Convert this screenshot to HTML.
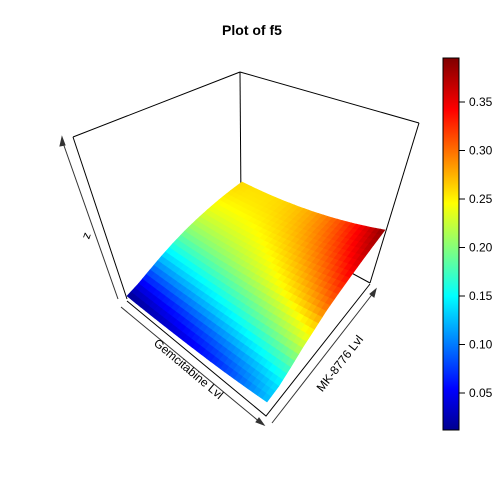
<!DOCTYPE html>
<html><head><meta charset="utf-8"><style>
html,body{margin:0;padding:0;background:#fff;}
svg{display:block;font-family:"Liberation Sans",sans-serif;}
</style></head><body>
<svg id="chart" width="504" height="504" viewBox="0 0 504 504">
<rect width="504" height="504" fill="#fff"/>
<text x="252" y="35" text-anchor="middle" font-size="14" font-weight="bold">Plot of f5</text>
<g id="boxBack" stroke="#000" stroke-width="1" fill="none">
<line x1="240" y1="72" x2="73" y2="137"/>
<line x1="240" y1="72" x2="419" y2="123"/>
<line x1="240" y1="72" x2="241" y2="205"/>
<line x1="73" y1="137" x2="127" y2="299"/>
<line x1="419" y1="123" x2="370" y2="283"/>
<line x1="241" y1="213" x2="370" y2="283"/>
</g>
<g id="surface"></g>
<g stroke="#000" stroke-width="1" fill="none">
<polyline points="127,301 266,416 370,284"/>
</g>
<g stroke="#333" stroke-width="1" fill="#333">
<line x1="118" y1="299" x2="62" y2="140"/>
<polygon points="62,137 60,146 65,145"/>
<line x1="121" y1="307" x2="261" y2="423"/>
<polygon points="264,425 256,422 259,418"/>
<line x1="272" y1="423" x2="374" y2="292"/>
<polygon points="376,289 370,294 374,297"/>
</g>
<text transform="translate(84,235) rotate(110)" text-anchor="middle" font-size="12">z</text>
<text transform="translate(186,372) rotate(40)" text-anchor="middle" font-size="12">Gemcitabine Lvl</text>
<text transform="translate(343,366) rotate(-52)" text-anchor="middle" font-size="12">MK-8776 Lvl</text>
<defs><linearGradient id="jet" x1="0" y1="1" x2="0" y2="0">
<stop offset="0" stop-color="#00008f"/><stop offset="0.11" stop-color="#0000ff"/>
<stop offset="0.36" stop-color="#00ffff"/><stop offset="0.61" stop-color="#ffff00"/>
<stop offset="0.86" stop-color="#ff0000"/><stop offset="1" stop-color="#800000"/>
</linearGradient></defs>
<rect x="443" y="58" width="16" height="372" fill="url(#jet)" stroke="#000" stroke-width="1"/>
<g id="cbTicks"></g>
</svg>
<script>
const gemLevels=[0,0.1,0.2,0.3,0.4,0.5,0.6,0.7,0.8,0.9,1];
const mkLevels=[0,0.1,0.2,0.3,0.4,0.5,0.6,0.7,0.8,0.9,1];
const zValues=[
[0.012,0.0444,0.0880,0.1298,0.1658,0.1960,0.2184,0.2360,0.2488,0.2568,0.2600],
[0.018,0.0505,0.0947,0.1343,0.1683,0.1978,0.2187,0.2351,0.2469,0.2541,0.2568],
[0.025,0.0580,0.1011,0.1399,0.1732,0.2014,0.2212,0.2367,0.2479,0.2546,0.2572],
[0.033,0.0669,0.1092,0.1464,0.1787,0.2068,0.2259,0.2408,0.2516,0.2585,0.2612],
[0.042,0.0761,0.1170,0.1542,0.1865,0.2140,0.2327,0.2474,0.2584,0.2655,0.2688],
[0.052,0.0856,0.1256,0.1630,0.1948,0.2230,0.2416,0.2566,0.2680,0.2758,0.2800],
[0.063,0.0955,0.1349,0.1729,0.2045,0.2338,0.2527,0.2683,0.2805,0.2893,0.2948],
[0.076,0.1058,0.1449,0.1839,0.2156,0.2464,0.2660,0.2825,0.2959,0.3060,0.3132],
[0.091,0.1165,0.1556,0.1958,0.2283,0.2608,0.2815,0.2992,0.3140,0.3261,0.3352],
[0.107,0.1285,0.1670,0.2090,0.2423,0.2770,0.2991,0.3184,0.3352,0.3493,0.3608],
[0.125,0.1408,0.1792,0.2232,0.2578,0.2950,0.3188,0.3402,0.3592,0.3758,0.3900]];
const tickValues=[0.05,0.10,0.15,0.20,0.25,0.30,0.35];
const tickLabels=["0.05","0.10","0.15","0.20","0.25","0.30","0.35"];

const NS="http://www.w3.org/2000/svg";
const zMin=0.012,zMax=0.395;
const cbY=v=>393-(v-0.05)*970;
function jet(t){
  t=Math.max(0,Math.min(1,t));
  const stops=[[0,0,0,143],[0.11,0,0,255],[0.36,0,255,255],[0.61,255,255,0],[0.86,255,0,0],[1,128,0,0]];
  for(let i=1;i<stops.length;i++){if(t<=stops[i][0]){const a=stops[i-1],b=stops[i],f=(t-a[0])/(b[0]-a[0]);
    return `rgb(${Math.round(a[1]+(b[1]-a[1])*f)},${Math.round(a[2]+(b[2]-a[2])*f)},${Math.round(a[3]+(b[3]-a[3])*f)})`;}}
  return "rgb(128,0,0)";
}
const nU=gemLevels.length-1,nV=mkLevels.length-1;
const C={L:[127,296],F:[267,402],R:[385,230],B:[242,182]};
const zc={L:zValues[0][0],F:zValues[nU][0],R:zValues[nU][nV],B:zValues[0][nV]};
function zAt(u,v){
  const i=Math.min(nU-1,Math.floor(u)),j=Math.min(nV-1,Math.floor(v)),fu=u-i,fv=v-j;
  return zValues[i][j]*(1-fu)*(1-fv)+zValues[i+1][j]*fu*(1-fv)+zValues[i][j+1]*(1-fu)*fv+zValues[i+1][j+1]*fu*fv;
}
function proj(u,v,z){
  const a=u/nU,b=v/nV;
  const w=[(1-a)*(1-b),a*(1-b),a*b,(1-a)*b];
  const x=C.L[0]*w[0]+C.F[0]*w[1]+C.R[0]*w[2]+C.B[0]*w[3];
  const y=C.L[1]*w[0]+C.F[1]*w[1]+C.R[1]*w[2]+C.B[1]*w[3];
  const zb=zc.L*w[0]+zc.F*w[1]+zc.R*w[2]+zc.B*w[3];
  return [x,y-(z-zb)*130];
}
const sub=3,N=nU*sub,M=nV*sub;
const cells=[];
for(let p=0;p<N;p++)for(let q=0;q<M;q++)cells.push([p,q]);
cells.sort((a,b)=>(a[0]-a[1])-(b[0]-b[1]));
const g=document.getElementById('surface');
for(const [p,q] of cells){
  const u0=p/sub,u1=(p+1)/sub,v0=q/sub,v1=(q+1)/sub;
  const pts=[[u0,v0],[u1,v0],[u1,v1],[u0,v1]].map(([u,v])=>proj(u,v,zAt(u,v)));
  const zm=zAt((u0+u1)/2,(v0+v1)/2);
  const col=jet((zm-zMin)/(zMax-zMin));
  const poly=document.createElementNS(NS,'polygon');
  poly.setAttribute('points',pts.map(s=>s[0].toFixed(2)+','+s[1].toFixed(2)).join(' '));
  poly.setAttribute('fill',col);poly.setAttribute('stroke',col);poly.setAttribute('stroke-width','0.6');
  
  
  g.appendChild(poly);
}
const tg=document.getElementById('cbTicks');
tickValues.forEach((v,i)=>{
  const y=cbY(v);
  const l=document.createElementNS(NS,'line');
  l.setAttribute('x1',459);l.setAttribute('x2',465);l.setAttribute('y1',y);l.setAttribute('y2',y);l.setAttribute('stroke','#000');
  
  
  tg.appendChild(l);
  const t=document.createElementNS(NS,'text');
  t.setAttribute('x',469);t.setAttribute('y',y+4);t.setAttribute('font-size','12');
  t.textContent=tickLabels[i];
  
  
  tg.appendChild(t);
});
</script>
</body></html>
